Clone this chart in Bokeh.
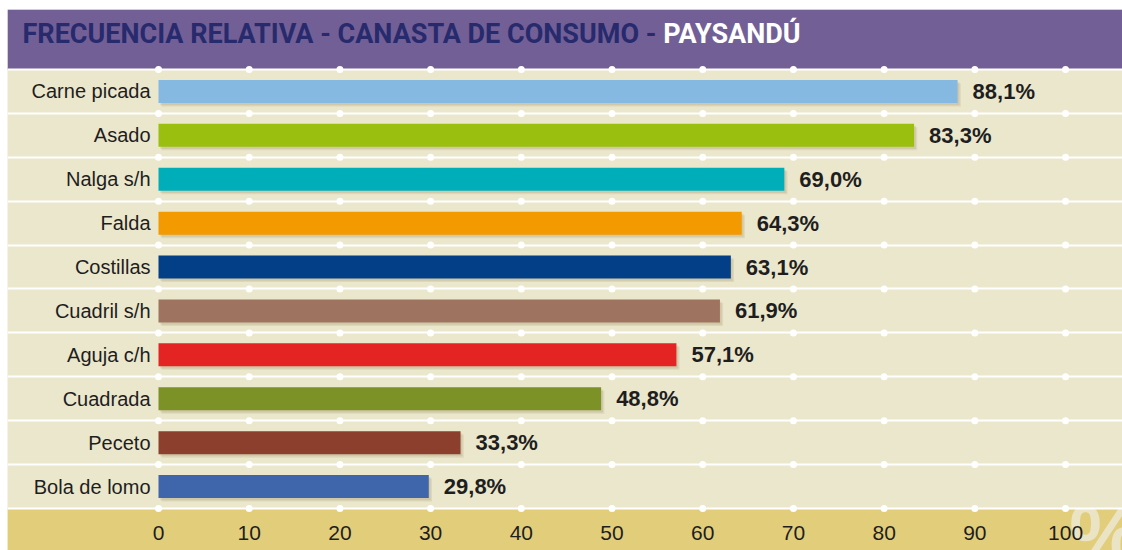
from bokeh.plotting import figure
from bokeh.models import Range1d, BoxAnnotation, ColumnDataSource
from bokeh.core.properties import value
from bokeh.embed import file_html
from bokeh.resources import INLINE

# ---- data ----
categories = ["Carne picada", "Asado", "Nalga s/h", "Falda", "Costillas",
              "Cuadril s/h", "Aguja c/h", "Cuadrada", "Peceto", "Bola de lomo"]
values = [88.1, 83.3, 69.0, 64.3, 63.1, 61.9, 57.1, 48.8, 33.3, 29.8]
bar_colors = ["#86B9E1", "#9ABF0F", "#00AEBA", "#F29A00", "#033F87",
              "#9E7461", "#E42423", "#7C9226", "#8B3F2C", "#3F66AB"]
x_ticks = [0, 10, 20, 30, 40, 50, 60, 70, 80, 90, 100]
x_tick_labels = ["0", "10", "20", "30", "40", "50", "60", "70", "80", "90", "100"]
title_main = "FRECUENCIA RELATIVA - CANASTA DE CONSUMO -"
title_place = "PAYSANDÚ"

# ---- styles ----
FONT = "Liberation Sans"
TFONT = "Roboto"
PURPLE = "#725F96"
BEIGE = "#EBE7CC"
GOLD = "#E2CD7B"
NAVY = "#272A6C"
TEXT = "#1E1E1E"

n = len(categories)
ypos = [n - i - 0.5 for i in range(n)]
labels = [("%.1f" % v).replace(".", ",") + "%" for v in values]

src = ColumnDataSource(dict(cat=categories, val=values, y=ypos, color=bar_colors,
                            lab=labels))

W, H = 1122, 550
p = figure(width=W, height=H, output_backend="svg", toolbar_location=None,
           x_range=Range1d(-16.648, 106.28), y_range=Range1d(-0.957, 11.367),
           x_axis_location=None, y_axis_location=None,
           min_border_left=7, min_border_right=0,
           min_border_top=9, min_border_bottom=0,
           background_fill_color=BEIGE, border_fill_color="white",
           outline_line_color=None)
p.xgrid.visible = False
p.ygrid.visible = False

# banner and bottom band
p.add_layout(BoxAnnotation(bottom=n, fill_color=PURPLE, fill_alpha=1.0,
                           line_color=None, level="underlay"))
p.add_layout(BoxAnnotation(top=0, fill_color=GOLD, fill_alpha=1.0,
                           line_color=None, level="underlay"))

# big percent mark in bottom band
p.text(x=[100.4], y=[-0.57], text=["%"], text_font=value(FONT),
       text_font_size="82px", text_font_style="bold", text_color=BEIGE,
       text_alpha=0.9, text_align="left", text_baseline="alphabetic")

# row separators
p.hspan(y=list(range(n + 1)), line_color="white", line_width=2)

# dots at grid intersections
dx, dy = [], []
for yy in range(n + 1):
    for xx in x_ticks:
        dx.append(xx)
        dy.append(yy)
p.scatter(dx, dy, size=7, color="white", line_color=None)

# soft shadows
shadow_y1 = [y - 0.08 for y in ypos]
shadow_y2 = [y - 0.05 for y in ypos]
shadow_r1 = [v + 0.35 for v in values]
shadow_r2 = [v + 0.2 for v in values]
p.hbar(y=shadow_y1, left=0.35, right=shadow_r1, height=0.524,
       fill_color="#6b5a2a", fill_alpha=0.10, line_color=None)
p.hbar(y=shadow_y2, left=0.2, right=shadow_r2, height=0.524,
       fill_color="#6b5a2a", fill_alpha=0.12, line_color=None)

# bars
p.hbar(y="y", left=0, right="val", height=0.524, source=src,
       fill_color="color", line_color=None)

# category labels
p.text(x=0, y="y", text="cat", source=src, x_offset=-8,
       text_align="right", text_baseline="middle",
       text_font=value(FONT), text_font_size="20px", text_color=TEXT)

# value labels
p.text(x="val", y="y", text="lab", source=src, x_offset=15,
       text_align="left", text_baseline="middle",
       text_font=value(FONT), text_font_size="22px", text_font_style="bold",
       text_color=TEXT)

# x tick labels in the bottom band
p.text(x=x_ticks, y=[-0.55] * len(x_ticks), text=x_tick_labels,
       text_align="center", text_baseline="middle",
       text_font=value(FONT), text_font_size="21px", text_color=TEXT)

# title
p.text(x=[-14.99], y=[10.81], text=[title_main], text_font=value(TFONT),
       text_font_size="27px", text_font_style="bold", text_color=NAVY,
       text_baseline="middle", text_align="left")
p.text(x=[55.65], y=[10.81], text=[title_place], text_font=value(TFONT),
       text_font_size="27px", text_font_style="bold", text_color="white",
       text_baseline="middle", text_align="left")

open("out.html", "w").write(file_html(p, INLINE))
